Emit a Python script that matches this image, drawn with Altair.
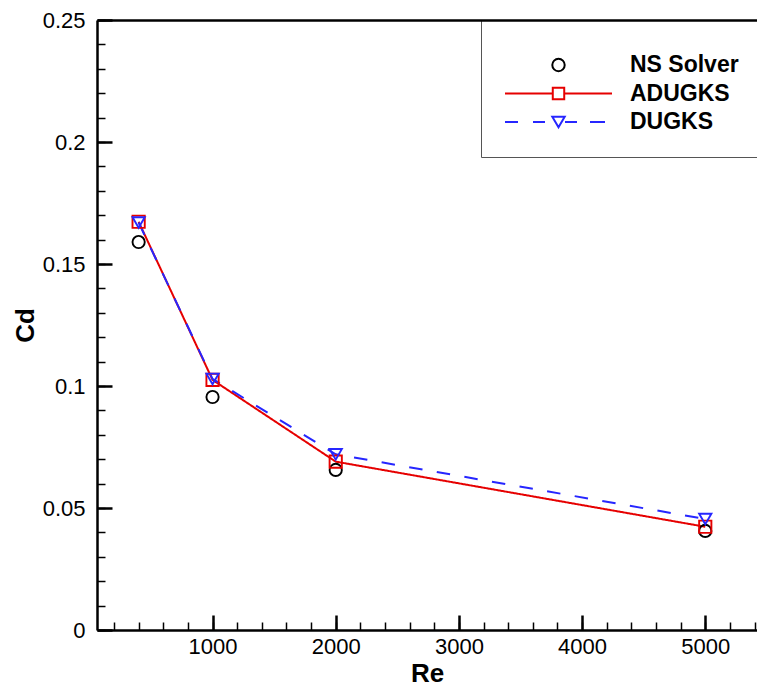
import altair as alt
import pandas as pd

# ---- data ----
re_values = [400, 1000, 2000, 5000]
ns_solver = [0.159, 0.0955, 0.0656, 0.0406]
adugks = [0.1673, 0.1025, 0.069, 0.0423]
dugks = [0.167, 0.1029, 0.072, 0.0455]

series_names = ["NS Solver", "ADUGKS", "DUGKS"]
series_colors = ["#000000", "#e60000", "#2626ff"]
plot_shapes = ["circle", "square", "triangle-down"]

x_major = [1000, 2000, 3000, 4000, 5000]
x_minor = list(range(200, 5401, 200))
y_major = [0, 0.05, 0.1, 0.15, 0.2, 0.25]
y_minor = [round(i * 0.01, 2) for i in range(26)]

rows = []
for name, vals in zip(series_names, [ns_solver, adugks, dugks]):
    for r, v in zip(re_values, vals):
        rows.append({"series": name, "Re": r, "Cd": v})
df = pd.DataFrame(rows)

FONT = "Liberation Sans"
XDOM = [62, 5420]
YDOM = [0, 0.25]

# legend symbols: line + marker drawn as one custom path (unit box [-1,1])
legend_paths = [
    "M-1,0M1,0M0.116,0A0.116,0.116,0,1,1,-0.116,0A0.116,0.116,0,1,1,0.116,0Z",
    "M-1,0L-0.107,0M0.107,0L1,0M-0.107,-0.107L0.107,-0.107L0.107,0.107L-0.107,0.107Z",
    "M-1,0L-0.757,0M-0.477,0L-0.252,0M0.121,0L0.346,0M0.589,0L0.869,0M1,0"
    "M0,0.1L-0.116,-0.1L0.116,-0.1Z",
]


def xs(axis):
    return alt.X("Re:Q", scale=alt.Scale(domain=XDOM, nice=False, zero=False), axis=axis)


def ys(axis):
    return alt.Y("Cd:Q", scale=alt.Scale(domain=YDOM, nice=False), axis=axis)


tick_common = dict(domain=False, labels=False, ticks=True, grid=False, tickColor="black", title=None)

# main axes (line layer)
x_main = alt.Axis(orient="bottom", values=x_major, format="d", grid=False, ticks=False, tickSize=0,
                  domain=True, domainColor="black", domainWidth=2.5, labelFont=FONT, labelFontSize=22,
                  labelColor="black", labelPadding=6, labelFlush=False, title="Re", titleFont=FONT,
                  titleFontSize=26, titleFontWeight="bold", titleColor="black", titlePadding=3)
y_main = alt.Axis(orient="left", values=y_major, format="~g", grid=False, ticks=False, tickSize=0,
                  domain=True, domainColor="black", domainWidth=2.5, labelFont=FONT, labelFontSize=22,
                  labelColor="black", labelPadding=12, labelFlush=False, title="Cd", titleFont=FONT,
                  titleFontSize=26, titleFontWeight="bold", titleColor="black", titlePadding=4)

lines = alt.Chart(df).transform_filter("datum.series != 'NS Solver'").mark_line(strokeWidth=2).encode(
    x=xs(x_main),
    y=ys(y_main),
    color=alt.Color("series:N", scale=alt.Scale(domain=series_names[1:], range=series_colors[1:]), legend=None),
    strokeDash=alt.StrokeDash("series:N", scale=alt.Scale(domain=series_names[1:], range=[[1, 0], [13.5, 14.5]]),
                              legend=None),
)

points = alt.Chart(df).mark_point(filled=False, size=150, strokeWidth=1.9, opacity=1).encode(
    x=xs(alt.Axis(orient="bottom", values=x_major, tickSize=15, tickWidth=2.5, offset=-15, **tick_common)),
    y=ys(alt.Axis(orient="left", values=y_major, tickSize=15, tickWidth=2.5, offset=-15, **tick_common)),
    color=alt.Color("series:N", scale=alt.Scale(domain=series_names, range=series_colors), legend=None),
    shape=alt.Shape("series:N", scale=alt.Scale(domain=series_names, range=plot_shapes), legend=None),
)

legend_def = alt.Legend(
    title=" ", titleFontSize=7, titlePadding=4,
    orient="none", legendX=384, legendY=0, padding=23,
    strokeColor="#555555", fillColor="white",
    symbolSize=11449, symbolStrokeWidth=2, symbolFillColor="transparent",
    clipHeight=22, rowPadding=5.5,
    labelFont=FONT, labelFontSize=23, labelFontWeight="bold", labelColor="black",
    labelOffset=17, labelLimit=400,
)

legend_layer = alt.Chart(df).transform_filter("false").mark_point(filled=False, opacity=1).encode(
    x=xs(alt.Axis(orient="bottom", values=x_minor, tickSize=8, tickWidth=1.5, offset=-8, **tick_common)),
    y=ys(alt.Axis(orient="left", values=y_minor, tickSize=8, tickWidth=1.5, offset=-8, **tick_common)),
    color=alt.Color("series:N", scale=alt.Scale(domain=series_names, range=series_colors), legend=legend_def),
    shape=alt.Shape("series:N", scale=alt.Scale(domain=series_names, range=legend_paths), legend=legend_def),
)

frame_top = alt.Chart(df).transform_filter("false").mark_point(opacity=0).encode(
    x=xs(alt.Axis(orient="top", domain=True, domainColor="black", domainWidth=2.5, ticks=False,
                  labels=False, grid=False, title=None, zindex=2)),
    y=ys(None),
)

chart = alt.layer(lines, points, legend_layer, frame_top).resolve_scale(
    color="independent", shape="independent", strokeDash="independent"
).resolve_axis(
    x="independent", y="independent"
).properties(
    width=660, height=610,
    autosize=alt.AutoSizeParams(type="none"),
    padding={"left": 97, "top": 20, "right": 0, "bottom": 56},
    background="white",
).configure_view(stroke=None)

chart.save("out.html", embed_options={"renderer": "svg", "actions": False})
